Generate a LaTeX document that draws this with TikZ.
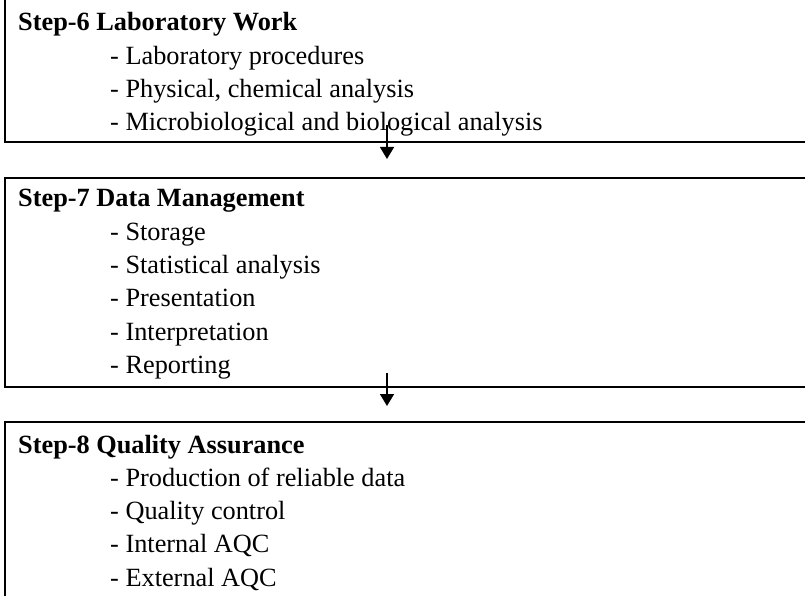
\documentclass[tikz,border=0pt]{standalone}
\usepackage{fontspec}
\setmainfont{Liberation Serif}
\usetikzlibrary{arrows.meta}

\tikzset{
  stepbox/.style={draw, line width=1.8pt, anchor=north west, inner sep=0pt, outer sep=0pt, minimum width=810pt},
  head/.style={anchor=base west, inner sep=0pt, font=\fontsize{26.3}{33}\selectfont\bfseries},
  item/.style={anchor=base west, inner sep=0pt, font=\fontsize{26.3}{33}\selectfont},
  flow/.style={line width=1.6pt, -{Triangle[length=12pt,width=14pt]}}
}

\begin{document}
\begin{tikzpicture}[x=1pt,y=-1pt]
\useasboundingbox (0,0) rectangle (805,596);
\clip (0,0) rectangle (805,596);

% the three steps
\node[stepbox, minimum height=144pt] (b6) at (5,-2) {};
\node[stepbox, minimum height=209pt] (b7) at (5,178) {};
\node[stepbox, minimum height=180pt] (b8) at (5,422) {};

\node[head] (h6) at (18,31) {Step-6 Laboratory Work};
\foreach \txt [count=\i] in {Laboratory procedures, {Physical, chemical analysis}, Microbiological and biological analysis}
    \node[item] (l6\i) at (110,{31+33.3*\i}) {- \txt};

\node[head] (h7) at (18,207) {Step-7 Data Management};
\foreach \txt [count=\i] in {Storage, Statistical analysis, Presentation, Interpretation, Reporting}
    \node[item] (l7\i) at (110,{207+33.3*\i}) {- \txt};

\node[head] (h8) at (18,453) {Step-8 Quality Assurance};
\foreach \txt [count=\i] in {Production of reliable data, Quality control, Internal AQC, External AQC}
    \node[item] (l8\i) at (110,{453+33.3*\i}) {- \txt};

% arrows between the steps
\coordinate (s6) at (387,125);
\coordinate (e6) at (387,159);
\coordinate (s7) at (387,373);
\coordinate (e7) at (387,406);
\draw[flow] (s6) -- (e6);
\draw[flow] (s7) -- (e7);

\end{tikzpicture}
\end{document}
